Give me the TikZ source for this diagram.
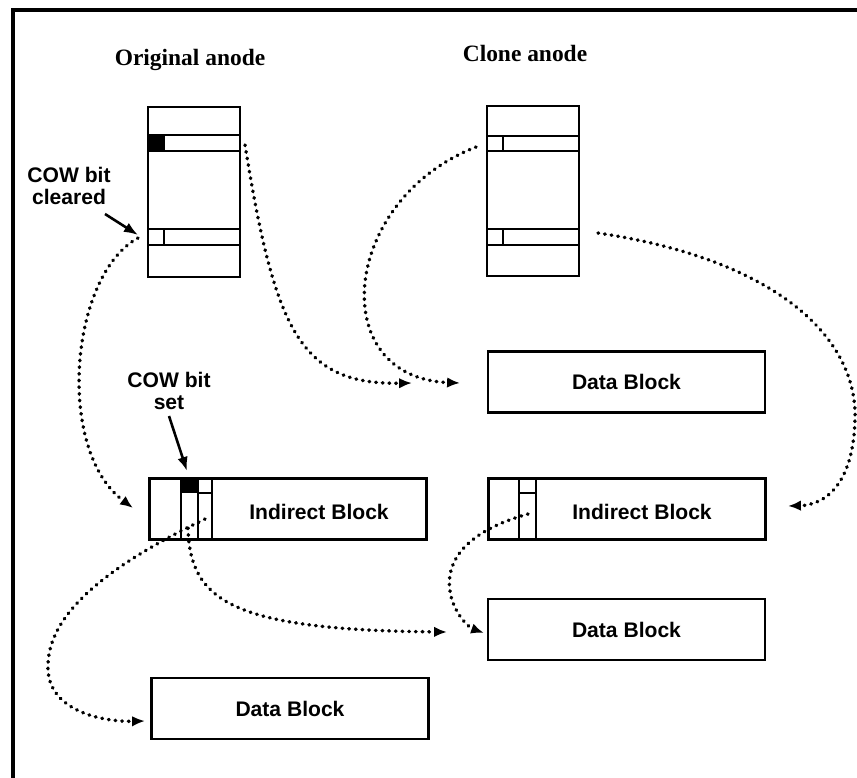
\documentclass[tikz,border=0pt]{standalone}
\usepackage{fontspec}
\setmainfont{Liberation Serif}
\setsansfont{Liberation Sans}
\usetikzlibrary{arrows.meta}

\tikzset{
  block/.style={draw, line width=2.2pt, inner sep=0pt, minimum width=8.31cm, minimum height=1.83cm, font=\fontsize{18}{20}\selectfont\sffamily\bfseries},
  anode/.style={draw, line width=2.2pt, inner sep=0pt, minimum width=2.76cm, minimum height=5.1cm},
  part/.style={line width=1.8pt},
  lbl/.style={font=\fontsize{18}{20}\selectfont\sffamily\bfseries},
  title/.style={font=\fontsize{20}{22}\selectfont\bfseries},
  cow/.style={align=center, font=\fontsize{18}{19}\selectfont\sffamily\bfseries},
  ptr/.style={line width=3pt, line cap=round, dash pattern=on 0.5pt off 5.2pt, -{Latex[length=11pt,width=9pt]}},
  note/.style={line width=2.2pt, -{Latex[length=12pt,width=9pt]}},
}

\begin{document}
\begin{tikzpicture}[x=0.03cm, y=-0.03cm]
    \useasboundingbox (0,0) rectangle (857,778);
    % Rahmen
    \draw[line width=3.2pt] (857,10) -- (13,10) -- (13,778);
    % Titel
    \node[title] (torig) at (190,60) {Original anode};
    \node[title] (tclone) at (525,53) {Clone anode};
    % Original anode
    \node[anode] (orig) at (194,192) {};
    \draw[part] (148,135) -- (240,135) (148,151) -- (240,151);
    \fill (148,135) rectangle (165,151);
    \draw[part] (148,229) -- (240,229) (148,245) -- (240,245) (164,229) -- (164,245);
    % Clone anode
    \node[anode] (clone) at (533,191) {};
    \draw[part] (487,136) -- (579,136) (487,151) -- (579,151) (503,136) -- (503,151);
    \draw[part] (487,229) -- (579,229) (487,245) -- (579,245) (503,229) -- (503,245);
    % Bloecke
    \node[block] (data1) at (626.5,382) {Data Block};
    \node[block] (indl) at (288,509) {};
    \node[lbl] (tindl) at (319,512) {Indirect Block};
    \fill (181,479) rectangle (198,493);
    \draw[part] (181,479) -- (181,539) (198,479) -- (198,539) (212,479) -- (212,539) (198,493) -- (212,493);
    \node[block] (indr) at (627,509) {};
    \node[lbl] (tindr) at (642,512) {Indirect Block};
    \draw[part] (519,479) -- (519,539) (536,479) -- (536,539) (519,493) -- (536,493);
    \node[block] (data2) at (626.5,629.5) {Data Block};
    \node[block] (data3) at (290,708.5) {Data Block};
    % COW bit Beschriftungen
    \node[cow] (cleared) at (69,186) {COW bit\\cleared};
    \coordinate (clrtip) at (138,235);
    \draw[note] (105,214) -- (clrtip);
    \node[cow] (set) at (169,391) {COW bit\\set};
    \coordinate (settip) at (187,471);
    \draw[note] (set.south) ++(0,2) -- (settip);
    % Zeiger
    \coordinate (o1) at (245,145);
    \coordinate (o2) at (138,238);
    \coordinate (c1) at (476,147);
    \coordinate (c2) at (598,233);
    \coordinate (l1) at (205,519);
    \coordinate (l2) at (188,528);
    \coordinate (r1) at (528,514);
    \draw[ptr] (o1) .. controls (275,330) and (300,385) .. (412,383);
    \draw[ptr] (c1) .. controls (340,200) and (325,378) .. (460,383);
    \draw[ptr] (o2) .. controls (70,275) and (55,450) .. (133,508);
    \draw[ptr] (c2) .. controls (780,260) and (858,340) .. (855,420)
        .. controls (853,485) and (825,505) .. (788,506);
    \draw[ptr] (l1) .. controls (120,560) and (45,610) .. (48,670)
        .. controls (50,710) and (100,722) .. (145,721);
    \draw[ptr] (l2) .. controls (190,600) and (230,630) .. (447,632);
    \draw[ptr] (r1) .. controls (470,530) and (440,560) .. (452,600)
        .. controls (458,618) and (470,628) .. (484,633);
\end{tikzpicture}
\end{document}
